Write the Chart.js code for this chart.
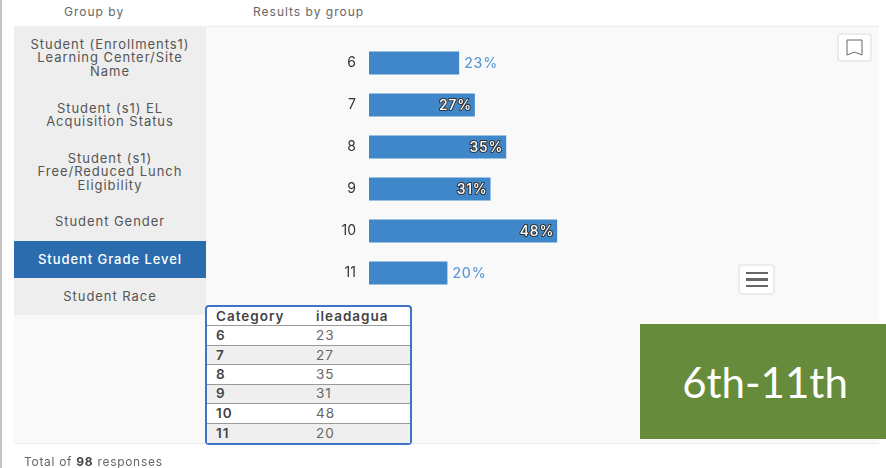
<!DOCTYPE html>
<html lang="en">
<head>
    <meta charset="UTF-8">
    <title>Results by group</title>
    <style>
        html, body { margin: 0; padding: 0; background: #fff; overflow: hidden; }
        body { width: 886px; height: 468px; position: relative; font-family: Inter, "Open Sans", sans-serif; color: #555; }
        body > * { position: absolute; box-sizing: border-box; }
        .edge { left: 0; top: 0; width: 2px; height: 468px; background: #c4c4c4; }
        .head { top: 4px; font-size: 12px; letter-spacing: 1px; color: #666; }
        .panel { left: 14px; top: 26px; width: 865px; height: 418px; background: #f9f9f9; border-top: 1px dotted #ddd; border-bottom: 1px dotted #ddd; }
        .menu { left: 14px; top: 26px; width: 192px; height: 289px; background: #eeeeee; }
        .item { position: absolute; left: 0; width: 192px; text-align: center; font-size: 13px; line-height: 13.4px; letter-spacing: .95px; color: #555; }
        .item.on { top: 214.5px; height: 37.5px; line-height: 37.5px; background: #2a6cad; color: #fff; font-weight: 500; }
        canvas { left: 0; top: 0; }
        .btn { background: #fff; border: 2px solid #ececec; border-radius: 4px; display: flex; align-items: center; justify-content: center; }
        .mark { left: 837px; top: 33px; width: 35px; height: 29px; }
        .burger { left: 738px; top: 264px; width: 37px; height: 31px; flex-direction: column; gap: 4px; }
        .burger i { display: block; width: 22px; height: 2.5px; background: #666; }
        table { left: 205px; top: 305px; width: 207px; height: 140px; border: 2px solid #3f73c6; border-radius: 4px; border-collapse: separate; border-spacing: 0; background: #fff; font-size: 13.5px; line-height: 15px; letter-spacing: 1px; color: #666; table-layout: fixed; }
        th, td { box-sizing: border-box; padding: 0 0 0 9px; height: 19.4px; text-align: left; border-bottom: 1px solid #999; }
        tr:last-child td { border-bottom: 0; }
        th { color: #444; font-weight: 600; }
        th:first-child { width: 100px; }
        td:first-child { font-weight: 600; color: #444; }
        tr.alt td { background: #efefef; }
        .badge { left: 640px; top: 324px; width: 246px; height: 115px; background: #668c3b; color: #fff; font-family: Lato, sans-serif; font-size: 42px; display: flex; align-items: center; justify-content: center; padding-left: 4px; }
        .total { left: 24px; top: 454px; font-size: 12px; letter-spacing: .7px; color: #666; }
        .total b { color: #444; }
    </style>
    <script src="https://cdn.jsdelivr.net/npm/chart.js"></script>
</head>
<body>
    <div class="edge"></div>
    <div class="head" style="left:64px">Group by</div>
    <div class="head" style="left:253px">Results by group</div>
    <div class="panel"></div>
    <div class="menu">
        <div class="item" style="top:12px">Student (Enrollments1)<br>Learning Center/Site<br>Name</div>
        <div class="item" style="top:76px">Student (s1) EL<br>Acquisition Status</div>
        <div class="item" style="top:126px">Student (s1)<br>Free/Reduced Lunch<br>Eligibility</div>
        <div class="item" style="top:189px">Student Gender</div>
        <div class="item on">Student Grade Level</div>
        <div class="item" style="top:264px">Student Race</div>
    </div>
    <canvas id="chart" width="886" height="468"></canvas>
    <div class="btn mark">
        <svg width="17" height="17" viewBox="0 0 17 17"><path d="M1 1H16V16L8.5 13L1 16Z" fill="none" stroke="#666" stroke-width="1"/></svg>
    </div>
    <div class="btn burger"><i></i><i></i><i></i></div>
    <table id="table"></table>
    <div class="badge">6th-11th</div>
    <div class="total">Total of <b>98</b> responses</div>

    <script>
        const categories = ['6', '7', '8', '9', '10', '11'];
        const values = [23, 27, 35, 31, 48, 20];
        const tableHead = ['Category', 'ileadagua'];

        // the small table under the chart
        const table = document.getElementById('table');
        let rows = '<tr><th>' + tableHead[0] + '</th><th>' + tableHead[1] + '</th></tr>';
        categories.forEach((c, i) => {
            rows += '<tr' + (i % 2 ? ' class="alt"' : '') + '><td>' + c + '</td><td>' + values[i] + '</td></tr>';
        });
        table.innerHTML = rows;

        // percent labels: short bars get them outside, long ones inside with an outline
        const barLabels = {
            id: 'barLabels',
            afterDatasetsDraw(chart) {
                const ctx = chart.ctx;
                ctx.save();
                ctx.font = '500 14px Inter, sans-serif';
                ctx.letterSpacing = '0.8px';
                ctx.textBaseline = 'middle';
                chart.getDatasetMeta(0).data.forEach((bar, i) => {
                    const text = values[i] + '%';
                    if (values[i] < 25) {
                        ctx.textAlign = 'left';
                        ctx.fillStyle = '#5b9bd5';
                        ctx.fillText(text, bar.x + 5, bar.y + 0.5);
                    } else {
                        ctx.textAlign = 'right';
                        ctx.lineWidth = 2;
                        ctx.lineJoin = 'round';
                        ctx.strokeStyle = '#333';
                        ctx.strokeText(text, bar.x - 3, bar.y + 0.5);
                        ctx.fillStyle = '#fff';
                        ctx.fillText(text, bar.x - 3, bar.y + 0.5);
                    }
                });
                ctx.restore();
            }
        };

        new Chart(document.getElementById('chart'), {
            type: 'bar',
            data: {
                labels: categories,
                datasets: [{
                    data: values,
                    backgroundColor: '#3f87c9',
                    borderWidth: 0,
                    barPercentage: 23 / 42,
                    categoryPercentage: 1
                }]
            },
            options: {
                indexAxis: 'y',
                responsive: false,
                animation: false,
                layout: { padding: { left: 0, top: 42, right: 125, bottom: 174 } },
                plugins: { legend: { display: false }, tooltip: { enabled: false } },
                scales: {
                    x: { display: false, min: 0, max: 100 },
                    y: {
                        afterFit(axis) { axis.width = 369; },
                        grid: { display: false },
                        border: { display: false },
                        ticks: {
                            color: '#333',
                            padding: 5,
                            font: { family: 'Inter, sans-serif', size: 14 }
                        }
                    }
                }
            },
            plugins: [barLabels]
        });
    </script>
</body>
</html>
